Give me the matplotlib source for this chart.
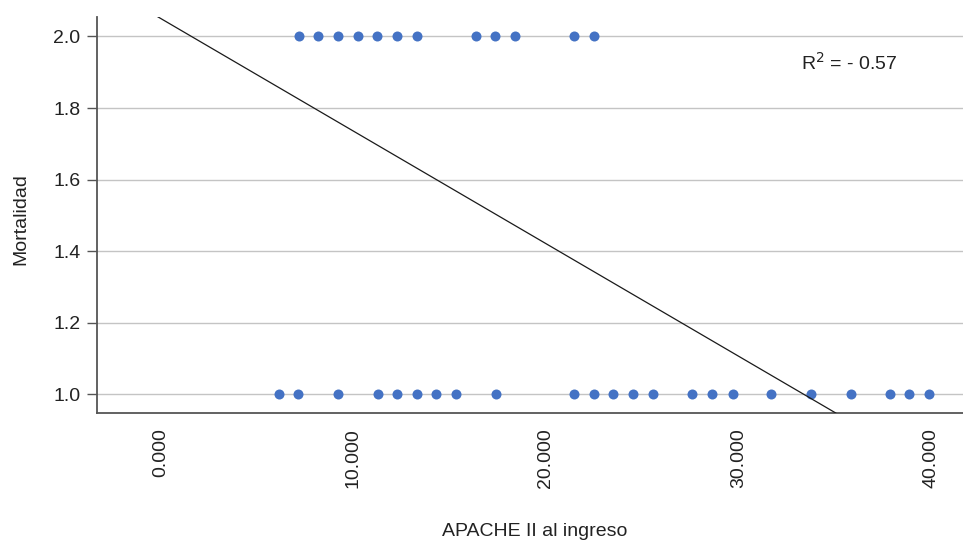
import numpy as np
import matplotlib.pyplot as plt
from matplotlib.ticker import FormatStrFormatter

plt.rcParams['font.family'] = ['Liberation Sans', 'DejaVu Sans']

# APACHE II score at admission, by mortality group
apache_died = [7.15, 8.17, 9.19, 10.22, 11.24, 12.26, 13.28, 16.35, 17.37, 18.40, 21.45, 22.48]
apache_survived = [6.13, 7.13, 9.18, 11.26, 12.26, 13.28, 14.29, 15.31, 17.39, 21.47, 22.49,
                   23.50, 24.50, 25.56, 27.58, 28.64, 29.70, 31.69, 33.77, 35.83, 37.87, 38.86, 39.91]
mortality_died = [2.0] * len(apache_died)
mortality_survived = [1.0] * len(apache_survived)

# trend line as drawn on the original chart
trend_slope = -0.03144
trend_intercept = 2.050
trend_x = [-0.16, 35.05]

x_ticks = [0, 10, 20, 30, 40]
y_ticks = [1.0, 1.2, 1.4, 1.6, 1.8, 2.0]

fig = plt.figure(figsize=(9.63, 5.42), dpi=100)
ax = fig.add_axes([0.1007, 0.238, 0.8993, 0.731])

for yv in y_ticks:
    ax.axhline(yv, color='#c4c4c4', lw=1.0, zorder=1)

ax.scatter(apache_died, mortality_died, s=52, color='#4472c4', zorder=3, linewidths=0)
ax.scatter(apache_survived, mortality_survived, s=52, color='#4472c4', zorder=3, linewidths=0)

tx = np.array(trend_x)
ax.plot(tx, trend_intercept + trend_slope * tx, color='#1a1a1a', lw=0.9, zorder=4)

ax.set_xlim(-3.32, 41.66)
ax.set_ylim(0.948, 2.055)
ax.set_xticks(x_ticks)
ax.set_yticks(y_ticks)
ax.xaxis.set_major_formatter(FormatStrFormatter('%.3f'))
ax.yaxis.set_major_formatter(FormatStrFormatter('%.1f'))

ax.tick_params(axis='x', length=0, pad=11, labelsize=14, labelrotation=90, colors='#222222')
ax.tick_params(axis='y', length=7, width=1.0, pad=5, labelsize=14, colors='#222222')
ax.tick_params(axis='y', color='#555555')
for lbl in ax.get_xticklabels():
    lbl.set_verticalalignment('top')

for side in ['top', 'right']:
    ax.spines[side].set_visible(False)
for side in ['left', 'bottom']:
    ax.spines[side].set_color('#555555')
    ax.spines[side].set_linewidth(1.3)

fig.text(0.5555, 0.003, 'APACHE II al ingreso', ha='center', va='bottom', fontsize=14, color='#222222')
fig.text(0.022, 0.595, 'Mortalidad', rotation=90, ha='center', va='center', fontsize=14, color='#222222')
fig.text(0.832, 0.871, 'R$^2$ = - 0.57', fontsize=14, color='#222222', ha='left', va='baseline')

fig.savefig('out.png', dpi=100)
